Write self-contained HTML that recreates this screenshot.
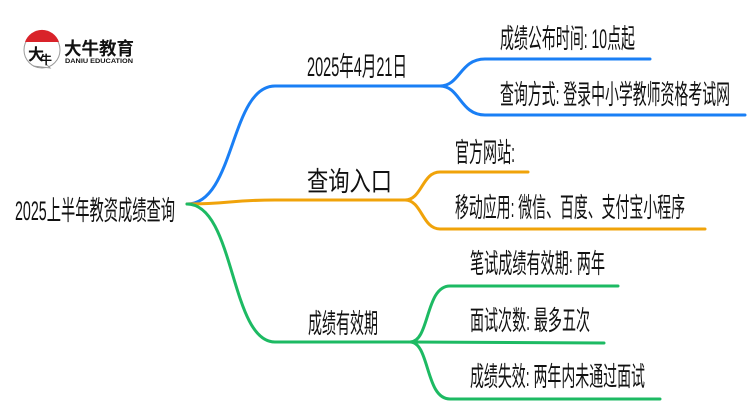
<!DOCTYPE html>
<html><head><meta charset="utf-8"><style>
html,body{margin:0;padding:0;background:#fff;width:750px;height:410px;overflow:hidden}
text{font-family:"Liberation Sans","Noto Sans CJK SC",sans-serif;fill:#111}
</style></head><body>
<svg width="750" height="410" viewBox="0 0 750 410" xmlns="http://www.w3.org/2000/svg">
<circle cx="42" cy="50" r="18" fill="#fff" stroke="#999" stroke-width="1"/>
<path d="M25 42 A18 18 0 0 1 59 42 Z" fill="#d9232a"/>
<path d="M33 66 L50 68 L46 64" fill="#fff" stroke="#999" stroke-width="1"/>
<text x="28" y="60" font-size="16" font-weight="bold" fill="#222">大</text>
<text x="40" y="64" font-size="12" font-weight="bold" fill="#222">牛</text>
<text x="64" y="55" font-size="18" font-weight="bold" fill="#222" textLength="70" lengthAdjust="spacingAndGlyphs">大牛教育</text>
<text x="65" y="63" font-size="6" font-weight="bold" fill="#333" textLength="68" lengthAdjust="spacingAndGlyphs">DANIU EDUCATION</text>

<g fill="none" stroke-width="3" stroke-linecap="round">
<path d="M187 204 C235 204 230 86 275 86 L440 86" stroke="#1a7ff5"/>
<path d="M440 86 C460 86 460 59 485 59 L650 59" stroke="#1a7ff5"/>
<path d="M440 86 C460 86 460 115 485 115 L745 115" stroke="#1a7ff5"/>
<path d="M187 204 C230 204 230 200 275 200 L405 200" stroke="#f0a30a"/>
<path d="M405 200 C422 200 422 172 440 172 L528 172" stroke="#f0a30a"/>
<path d="M405 200 C422 200 422 229 440 229 L705 229" stroke="#f0a30a"/>
<path d="M187 204 C235 204 230 342 275 342 L410 342" stroke="#1dba63"/>
<path d="M410 342 C430 342 425 286 450 286 L618 286" stroke="#1dba63"/>
<path d="M410 342 L604 343" stroke="#1dba63"/>
<path d="M410 342 C430 342 425 399 450 399 L660 399" stroke="#1dba63"/>
</g>

<g font-size="27">
<text x="15" y="220" textLength="160" lengthAdjust="spacingAndGlyphs">2025上半年教资成绩查询</text>
<text x="307" y="76" textLength="100" lengthAdjust="spacingAndGlyphs">2025年4月21日</text>
<text x="307" y="191" textLength="85" lengthAdjust="spacingAndGlyphs">查询入口</text>
<text x="308" y="333" textLength="70" lengthAdjust="spacingAndGlyphs">成绩有效期</text>
<text x="500" y="48" textLength="135" lengthAdjust="spacingAndGlyphs">成绩公布时间: 10点起</text>
<text x="500" y="104" textLength="230" lengthAdjust="spacingAndGlyphs">查询方式: 登录中小学教师资格考试网</text>
<text x="455" y="162" textLength="60" lengthAdjust="spacingAndGlyphs">官方网站:</text>
<text x="455" y="217" textLength="230" lengthAdjust="spacingAndGlyphs">移动应用: 微信、百度、支付宝小程序</text>
<text x="470" y="273" textLength="135" lengthAdjust="spacingAndGlyphs">笔试成绩有效期: 两年</text>
<text x="470" y="330" textLength="120" lengthAdjust="spacingAndGlyphs">面试次数: 最多五次</text>
<text x="470" y="386" textLength="175" lengthAdjust="spacingAndGlyphs">成绩失效: 两年内未通过面试</text>
</g>
</svg>
</body></html>
